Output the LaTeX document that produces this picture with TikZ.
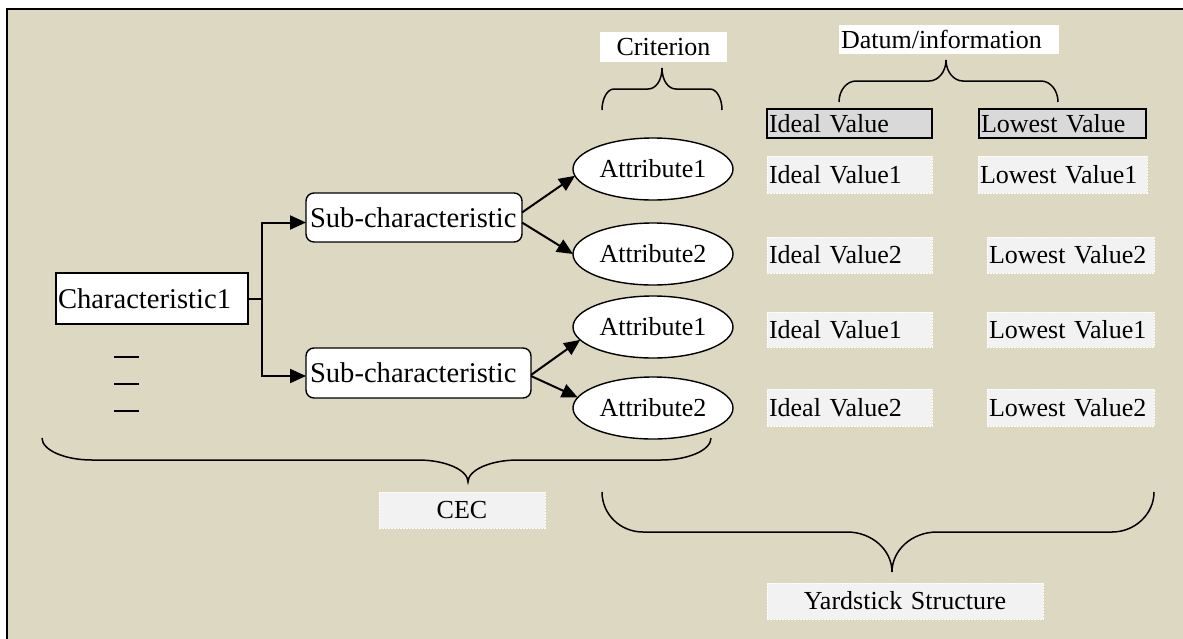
\documentclass[tikz,border=0pt]{standalone}
\usepackage{fontspec}
\setmainfont{Liberation Serif}
\usetikzlibrary{shapes.geometric,arrows.meta}
\definecolor{paper}{HTML}{DDD8C2}
\definecolor{headgray}{HTML}{D9D9D9}
\definecolor{cellgray}{HTML}{F2F2F2}
\begin{document}
\begin{tikzpicture}[x=1pt,y=-1pt,
  every node/.style={font=\fontsize{26}{30}\selectfont, inner sep=0pt, outer sep=0pt},
  bigtext/.style={font=\fontsize{28.6}{33}\selectfont},
  charbox/.style={draw, line width=1.4pt, fill=white, anchor=north west, bigtext, align=left, inner xsep=2pt},
  subbox/.style={draw, line width=1.4pt, fill=white, rounded corners=8pt, anchor=north west, bigtext, align=left, inner xsep=4pt},
  attr/.style={ellipse, draw, line width=1.4pt, fill=white, minimum width=160pt, minimum height=62pt},
  headcell/.style={draw, line width=2pt, fill=headgray, anchor=north west, align=left, inner xsep=2pt},
  cell/.style={draw=white, line width=0.8pt, dash pattern=on 2pt off 1pt, fill=cellgray, anchor=north west, align=left, inner xsep=2pt},
  tag/.style={fill=white, anchor=north west},
  link/.style={line width=2pt, -{Triangle[length=16pt,width=14pt]}},
  bracepath/.style={line width=1.5pt},
  tick/.style={line width=1.5pt},
]
\useasboundingbox (0,0) rectangle (1183,638);
\clip (0,0) rectangle (1183,638);
% panel: filled area running off the page, framed on the left and top
\fill[paper] (7,9) rectangle (1200,660);
\draw[line width=2pt] (7,660) -- (7,9) -- (1200,9);

% tree of characteristics
\node[charbox, text width=188pt, minimum height=51pt] (char) at (56,273) {Characteristic1};
\node[subbox, text width=208pt, minimum height=49pt] (sub1) at (306,193) {\mbox{Sub-characteristic}};
\node[subbox, text width=217pt, minimum height=50pt] (sub2) at (306,348) {\mbox{Sub-characteristic}};

\node[attr] (a1) at (653,169) {Attribute1};
\node[attr] (a2) at (653,254) {Attribute2};
\node[attr] (a3) at (653,327) {Attribute1};
\node[attr] (a4) at (653,408) {Attribute2};

\draw[link] (char.east) -- ++(14,0) |- ([yshift=-5pt]sub1.west);
\draw[link] (char.east) -- ++(14,0) |- ([yshift=-3pt]sub2.west);
\draw[link] ([yshift=5pt]sub1.east) -- (a1.185);
\draw[link] ([yshift=-5pt]sub1.east) -- (a2.west);
\draw[link] ([yshift=-2pt]sub2.east) -- (a3.190);
\draw[link] ([yshift=-3pt]sub2.east) -- (a4.172);

% further characteristics
\draw[tick] (114,357) -- (139,357);
\draw[tick] (114,384) -- (139,384);
\draw[tick] (114,411) -- (139,411);

% yardstick values
\node[headcell, text width=161pt, minimum height=29pt] (ih) at (767,109) {Ideal Value};
\node[headcell, text width=163pt, minimum height=29pt] (lh) at (979,109) {Lowest Value};

\node[cell, text width=161pt, minimum height=37pt] (i1) at (767,156) {Ideal Value1};
\node[cell, text width=161pt, minimum height=36pt] (i2) at (767,237) {Ideal Value2};
\node[cell, text width=161pt, minimum height=35pt] (i3) at (767,312) {Ideal Value1};
\node[cell, text width=161pt, minimum height=37pt] (i4) at (767,389) {Ideal Value2};

\node[cell, text width=165pt, minimum height=37pt] (l1) at (978,156) {Lowest Value1};
\node[cell, text width=163pt, minimum height=36pt] (l2) at (987,237) {Lowest Value2};
\node[cell, text width=163pt, minimum height=35pt] (l3) at (987,312) {Lowest Value1};
\node[cell, text width=163pt, minimum height=37pt] (l4) at (987,389) {Lowest Value2};

% labels
\node[tag, text width=127pt, minimum height=30pt, align=center] (crit) at (600,32) {Criterion};
\node[tag, text width=216pt, minimum height=29pt, align=left, inner xsep=2pt] (datum) at (839,25) {Datum/information};
\node[cell, text width=166pt, minimum height=36pt, align=center, inner xsep=0pt] (cec) at (379,492) {CEC};
\node[cell, text width=276pt, minimum height=36pt, align=center, inner xsep=0pt] (yard) at (767,583) {Yardstick Structure};

% braces
\draw[bracepath] (602,110) .. controls (602,98.4) and (607.4,89) .. (614,89) -- (648,89)
  .. controls (655.7,89) and (662,80.6) .. (662,68)
  .. controls (662,80.6) and (668.3,89) .. (676,89) -- (710,89)
  .. controls (716.6,89) and (722,98.4) .. (722,110);

\draw[bracepath] (839,102) .. controls (839,90.4) and (846.6,81) .. (856,81) -- (929,81)
  .. controls (938.4,81) and (946,71.6) .. (946,60)
  .. controls (946,71.6) and (953.6,81) .. (963,81) -- (1041,81)
  .. controls (1050.4,81) and (1058,90.4) .. (1058,102);

\draw[bracepath] (42,438) .. controls (42,450) and (64.4,460) .. (92,460) -- (418,460)
  .. controls (445.6,460) and (468,470) .. (468,482)
  .. controls (468,470) and (490.4,460) .. (518,460) -- (661,460)
  .. controls (688.6,460) and (711,450) .. (711,438);

\draw[bracepath] (602,492) .. controls (602,514) and (620,532) .. (643,532) -- (847,532)
  .. controls (872,532) and (892,550) .. (892,572)
  .. controls (892,550) and (912,532) .. (937,532) -- (1112,532)
  .. controls (1135,532) and (1154,514) .. (1154,492);
\end{tikzpicture}
\end{document}
